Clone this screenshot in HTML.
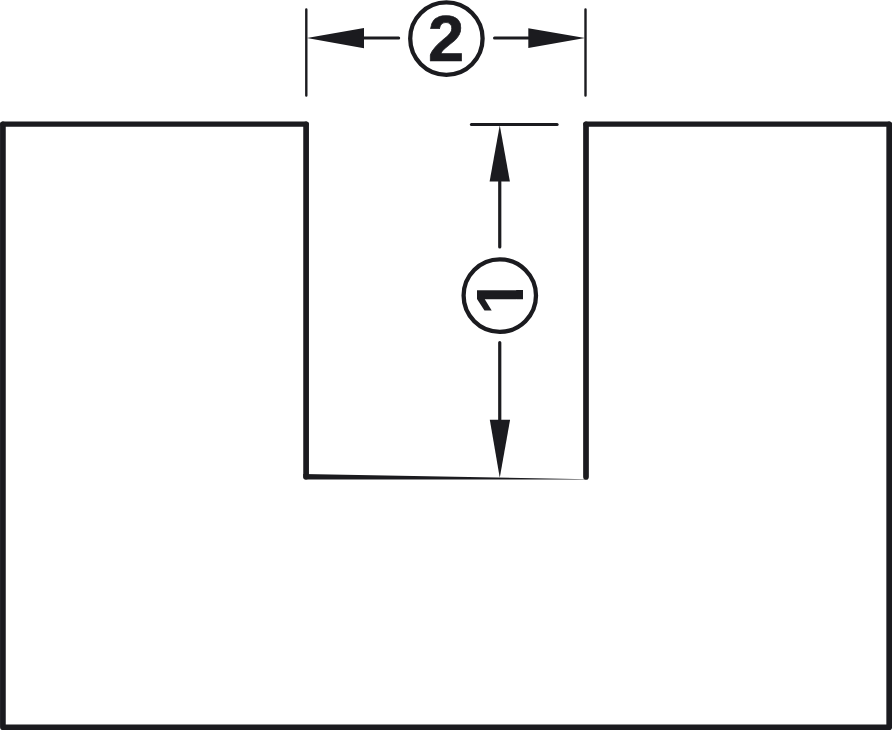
<!DOCTYPE html>
<html><head><meta charset="utf-8"><title>Cut-out dimensions</title>
<style>
html,body{margin:0;padding:0;background:#fff;}
body{width:892px;height:730px;overflow:hidden;}
svg{display:block;position:absolute;left:0;top:0;}
text{font-family:"Liberation Sans",sans-serif;font-weight:bold;fill:#1b1b1f;}
</style></head><body>
<svg width="892" height="730" viewBox="0 0 892 730">
<defs>
  <clipPath id="nofoot" clipPathUnits="userSpaceOnUse">
    <rect x="-30" y="-30" width="60" height="46.2"/>
    <rect x="-3.69" y="15" width="9.19" height="12"/>
  </clipPath>
</defs>
<g fill="none" stroke="#1b1b1f" stroke-linecap="round" stroke-linejoin="round">
  <!-- outline -->
  <path d="M306.1 476.6 V124.3 M2.9 124.3 V727.3 H889.2 V124.3 M586 124.3 V476.8" stroke-width="5.7"/>
  <path d="M2.9 124.1 H306.1 M586 124.1 H889.2" stroke-width="5.3"/>
  <!-- extension lines -->
  <path d="M306.3 9.5 V95.6 M585.5 9.5 V95.6" stroke-width="2.4"/>
  <path d="M471.4 124.5 H557.15" stroke-width="3"/>
  <!-- dimension lines -->
  <path d="M364 38.1 H398.7 M494.5 38.1 H528.3" stroke-width="3"/>
  <path d="M499.75 181.4 V247 M499.75 342.6 V419.7" stroke-width="3.2"/>
  <!-- circles -->
  <circle cx="446.4" cy="38.6" r="36.2" stroke-width="4.3"/>
  <circle cx="499.8" cy="295.6" r="36.2" stroke-width="4.3"/>
</g>
<g fill="#1b1b1f" stroke="none">
  <!-- tapered bottom of cut-out -->
  <path d="M303.25 476.6 L303.25 474 L588 479.2 L588 479.6 L306.1 479.6 A2.8 2.8 0 0 1 303.3 476.6 Z"/>
  <!-- arrowheads -->
  <path d="M306.9 38.1 L364 28 L364 48.2 Z"/>
  <path d="M585 38.1 L528.3 28.3 L528.3 48 Z"/>
  <path d="M499.75 125.2 L489.6 181.5 L509.9 181.5 Z"/>
  <path d="M499.75 477.8 L489.8 419.7 L510.1 419.7 Z"/>
</g>
<text x="427.9" y="61.35" font-size="65" stroke="#1b1b1f" stroke-width="0.7">2</text>
<g transform="translate(499.8 295.6) rotate(-90)">
  <text x="-19.33" y="23.4" font-size="67" clip-path="url(#nofoot)">1</text>
</g>
</svg>
</body></html>
